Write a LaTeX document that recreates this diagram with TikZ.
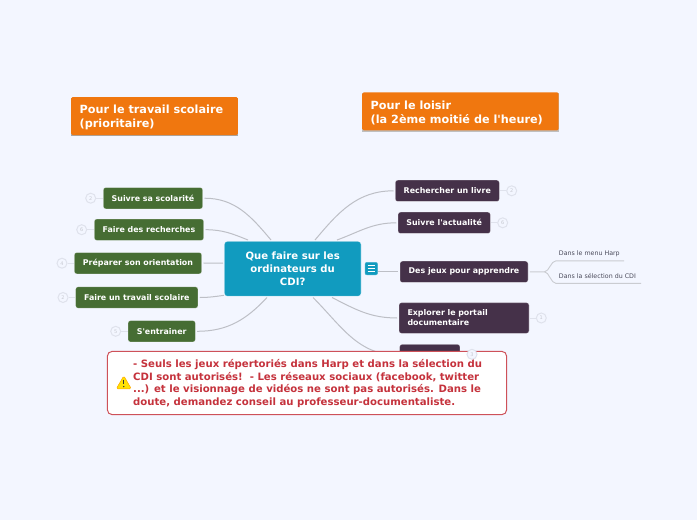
\documentclass[tikz,border=0pt]{standalone}
\usepackage{fontspec}
\setmainfont{DejaVu Sans}[Ligatures=TeXOff]
\definecolor{bgc}{HTML}{F3F6FF}
\definecolor{tealc}{HTML}{119BBF}
\definecolor{greenc}{HTML}{466D33}
\definecolor{purplec}{HTML}{453149}
\definecolor{orangec}{HTML}{F0770F}
\definecolor{redc}{HTML}{C5323C}
\definecolor{linkc}{HTML}{BDBFC6}
\definecolor{badgec}{HTML}{DFE2EC}
\definecolor{subc}{HTML}{4A4A5A}
\tikzset{
  topic/.style={rounded corners=2.5pt,inner sep=0pt,text=white,align=center,font=\bfseries\fontsize{7.9}{10}\selectfont,minimum height=21.3pt,draw=white,draw opacity=.35,line width=.6pt},
  greentopic/.style={topic,fill=greenc},
  purpletopic/.style={topic,fill=purplec},
  rootbox/.style={rounded corners=3pt,fill=tealc,inner sep=0pt,text=white,align=center,font=\bfseries\fontsize{10.1}{13}\selectfont,draw=white,draw opacity=.4,line width=.6pt},
  titlebox/.style={rounded corners=1.5pt,fill=orangec,inner xsep=8.5pt,inner ysep=0pt,text=white,align=left,font=\bfseries\fontsize{11.25}{13.8}\selectfont},
  link/.style={draw=linkc,line width=1pt},
  sublink/.style={draw=linkc!80!white,line width=.9pt},
  sublabel/.style={inner sep=0pt,text=subc,font=\fontsize{6.3}{8}\selectfont,anchor=west},
  badge/.style={circle,draw=badgec,fill=bgc,line width=1pt,minimum size=10pt,inner sep=0pt,text=badgec!75!gray,font=\fontsize{5}{5}\selectfont},
  badgelink/.style={draw=badgec,line width=1pt},
}
\begin{document}
\begin{tikzpicture}[x=1pt,y=-1pt]
\useasboundingbox (0,0) rectangle (697,520);
\fill[bgc] (0,0) rectangle (697,520);

% title boxes
\fill[gray!70] (71,98) rectangle (238,136.2);
\fill[gray!50] (362,93) rectangle (559,132);
\node[titlebox,anchor=west,minimum width=166.7pt,minimum height=38pt] (t1) at (71,116) {};
\node[titlebox,anchor=west,minimum width=196.5pt,minimum height=38pt] (t2) at (362,111.3) {};
\node[titlebox,fill=none,anchor=west,inner sep=0pt] (t1text) at (79.5,117.2) {Pour le travail scolaire\\(prioritaire)};
\node[titlebox,fill=none,anchor=west,inner sep=0pt] (t2text) at (370.5,112.7) {Pour le loisir\\(la 2ème moitié de l'heure)};

% root
\node[rootbox,minimum width=136.6pt,minimum height=54.8pt] (root) at (292.7,268.8) {Que faire sur les\\ordinateurs du\\CDI?};

% left topics
\node[greentopic,minimum width=99.4pt] (g1) at (153,198.2) {Suivre sa scolarité};
\node[greentopic,minimum width=109.4pt] (g2) at (149,229.7) {Faire des recherches};
\node[greentopic,minimum width=127.4pt] (g3) at (138,263.2) {Préparer son orientation};
\node[greentopic,minimum width=122.3pt] (g4) at (136.8,297.5) {Faire un travail scolaire};
\node[greentopic,minimum width=67.3pt] (g5) at (161.7,331.3) {S'entrainer};

% right topics
\node[purpletopic,minimum width=104pt] (p1) at (447.3,190.8) {Rechercher un livre};
\node[purpletopic,minimum width=92.3pt] (p2) at (444.2,222.8) {Suivre l'actualité};
\node[purpletopic,minimum width=128pt] (p3) at (464,271.8) {Des jeux pour apprendre};
\node[purpletopic,minimum width=130pt,minimum height=30.6pt,text width=113pt,align=left,font=\bfseries\fontsize{7.9}{10}\selectfont] (p4) at (464,318) {Explorer le portail\\documentaire};
\node[purpletopic,minimum width=60.3pt] (p5) at (429.8,355) {};

% anchors on the root's border
\coordinate (r1) at (271,240);
\coordinate (r2) at (248,240);
\coordinate (r3) at (223,263);
\coordinate (r4) at (224,295.3);
\coordinate (r5) at (267,297.5);
\coordinate (r6) at (315,240);
\coordinate (r7) at (337,240);
\coordinate (r9) at (332,297.5);
\coordinate (r10) at (313,297.5);

\draw[link] ([xshift=1.5pt]g1.east) to[out=0,in=130] (r1);
\draw[link] ([xshift=1.5pt]g2.east) to[out=0,in=158] (r2);
\draw[link] ([xshift=1.5pt]g3.east) -- (r3);
\draw[link] ([xshift=1.5pt]g4.east) to[out=0,in=188] (r4);
\draw[link] ([xshift=1.5pt]g5.east) to[out=0,in=-133] (r5);
\draw[link] ([xshift=-1.5pt]p1.west) to[out=180,in=50] (r6);
\draw[link] ([xshift=-1.5pt]p2.west) to[out=180,in=20] (r7);
\draw[link] ([xshift=-1.5pt]p4.west) to[out=180,in=-27] (r9);
\draw[link] ([xshift=-1.5pt]p5.west) to[out=180,in=-45] (r10);

% note icon
\node[rounded corners=2pt,fill=tealc,draw=tealc!80!white,line width=.5pt,minimum width=12.6pt,minimum height=12.6pt,inner sep=0pt] (ic) at (371.3,268.6) {};
\draw[white,line width=.8pt] (367.5,265.4) -- (375.1,265.4) (367.5,268.6) -- (375.1,268.6) (367.5,271.8) -- (375.1,271.8);
\draw[link] (ic.east|-p3.west) -- ([xshift=-1.5pt]p3.west);

% subtopics
\node[sublabel] (s1) at (558.7,254.2) {Dans le menu Harp};
\node[sublabel] (s2) at (558.7,276.2) {Dans la sélection du CDI};
\coordinate (s1e) at (624,260.8);
\coordinate (s2e) at (641,283.4);
\coordinate (fork) at (544.5,271.8);
\draw[sublink] ([xshift=1.5pt]p3.east) -- (fork) .. controls (549,271.8) and (551,260.8) .. (556,260.8) -- (s1e);
\draw[sublink] (fork) .. controls (549,271.8) and (551,283.4) .. (556,283.4) -- (s2e);

% badges
\node[badge] (b1) at (90.7,198.2) {2};
\node[badge] (b2) at (81.7,229.7) {6};
\node[badge] (b3) at (62,263.2) {4};
\node[badge] (b4) at (63,297.5) {2};
\node[badge] (b5) at (115.7,331.3) {5};
\node[badge] (b6) at (511.7,190.8) {2};
\node[badge] (b7) at (502.7,222.8) {6};
\node[badge] (b8) at (541.3,318) {1};
\draw[badgelink] (b1) -- (g1);
\draw[badgelink] (b2) -- (g2);
\draw[badgelink] (b3) -- (g3);
\draw[badgelink] (b4) -- (g4);
\draw[badgelink] (b5) -- (g5);
\draw[badgelink] (b6) -- (p1);
\draw[badgelink] (b7) -- (p2);
\draw[badgelink] (b8) -- (p4);

% warning note
\node[rounded corners=5pt,fill=white,draw=redc!85!white,line width=1pt,minimum width=399.4pt,minimum height=63.4pt,inner sep=0pt] (warn) at (307,383) {};
\node[anchor=west,inner sep=0pt,text=redc,align=left,font=\bfseries\fontsize{10.13}{12.7}\selectfont] (warntext) at (133,383.6) {- Seuls les jeux répertoriés dans Harp et dans la sélection du\\CDI sont autorisés!\ \ - Les réseaux sociaux (facebook, twitter\\...) et le visionnage de vidéos ne sont pas autorisés. Dans le\\doute, demandez conseil au professeur-documentaliste.};
\fill[rounded corners=1.5pt,fill=yellow!85!orange,draw=orange!70!yellow,line width=.5pt] (123.8,375.8) -- (131.3,388.8) -- (116.3,388.8) -- cycle;
\draw[black!80,line width=1.3pt] (123.8,379.5) -- (123.8,384.2);
\fill[black!80] (123.8,386.6) circle (.8pt);
\node[badge] (b9) at (472,354.3) {3};
\end{tikzpicture}
\end{document}
